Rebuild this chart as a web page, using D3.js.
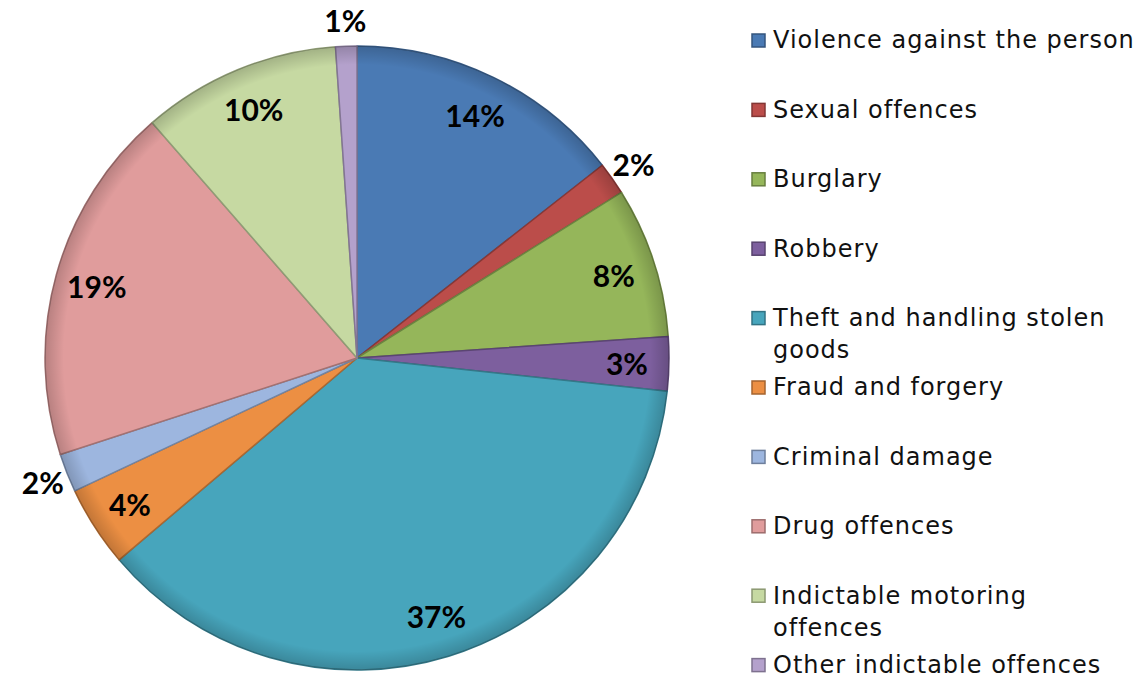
<!DOCTYPE html>
<html lang="en">
<head>
<meta charset="utf-8">
<style>
  body { margin: 0; background: white; }
  svg { display: block; background: white; }
  .lbl { font-family: Lato, "DejaVu Sans", sans-serif; font-weight: bold; font-size: 30px; fill: #000; }
  .leg text { font-family: "DejaVu Sans", sans-serif; font-size: 24px; letter-spacing: 1px; fill: #111; }
</style>
<title>Offences</title>
</head>
<body>
<script src="https://cdn.jsdelivr.net/npm/d3@7"></script>
<script>
// offence categories, in pie order (clockwise from 12 o'clock)
var categories = ["Violence against the person", "Sexual offences", "Burglary", "Robbery",
                  "Theft and handling stolen goods", "Fraud and forgery", "Criminal damage",
                  "Drug offences", "Indictable motoring offences", "Other indictable offences"];
// share of offences, percent
var shares = [14.4, 1.7, 7.8, 2.8, 37.1, 4.2, 2.0, 18.6, 10.3, 1.1];
var colours = ["#4a7ab4", "#bb4d4a", "#95b65a", "#7d5f9e", "#47a5bc",
               "#ec8f43", "#9db6df", "#e09c9c", "#c6d9a2", "#b4a1cc"];
// legend lines (wrapped like the original)
var legendLines = [["Violence against the person"], ["Sexual offences"], ["Burglary"], ["Robbery"],
                   ["Theft and handling stolen", "goods"], ["Fraud and forgery"], ["Criminal damage"],
                   ["Drug offences"], ["Indictable motoring", "offences"], ["Other indictable offences"]];

var W = 1140, H = 681;
var cx = 357, cy = 358, R = 312;

var svg = d3.select("body").append("svg").attr("width", W).attr("height", H);

var data = categories.map(function(c, i) { return {name: c, value: shares[i], color: colours[i], i: i}; });

var pie = d3.pie().sort(null).value(function(d) { return d.value; });
var arc = d3.arc().innerRadius(0).outerRadius(R);
var arcs = pie(data);

// soft bevel shading
var defs = svg.append("defs");
var grad = defs.append("radialGradient").attr("id", "shade")
    .attr("gradientUnits", "userSpaceOnUse").attr("cx", cx).attr("cy", cy).attr("r", R);
grad.append("stop").attr("offset", "0.94").attr("stop-color", "#000").attr("stop-opacity", 0);
grad.append("stop").attr("offset", "1").attr("stop-color", "#000").attr("stop-opacity", 0.18);

var g = svg.append("g").attr("transform", "translate(" + cx + "," + cy + ")");

g.selectAll("path.slice")
  .data(arcs)
  .enter().append("path")
    .attr("class", "slice")
    .attr("d", arc)
    .attr("fill", function(d) { return d.data.color; })
    .attr("stroke", function(d) { return d3.color(d.data.color).darker(0.9); })
    .attr("stroke-width", 1.5)
    .attr("stroke-linejoin", "round");

// overlay for edge darkening
svg.append("circle").attr("cx", cx).attr("cy", cy).attr("r", R)
  .attr("fill", "url(#shade)").attr("pointer-events", "none");

// labels: small slices go outside the pie
var inArc = d3.arc().innerRadius(270).outerRadius(270);
var outArc = d3.arc().innerRadius(338).outerRadius(338);

g.selectAll("text.lbl")
  .data(arcs)
  .enter().append("text")
    .attr("class", "lbl")
    .attr("text-anchor", "middle")
    .attr("dominant-baseline", "central")
    .attr("transform", function(d) {
      var p = (d.data.value < 2.5 ? outArc : inArc).centroid(d);
      return "translate(" + p[0] + "," + p[1] + ")";
    })
    .text(function(d) { return Math.round(d.data.value) + "%"; });

// legend
var leg = svg.append("g").attr("class", "leg").attr("transform", "translate(752,40)");
var item = leg.selectAll("g.item")
  .data(data)
  .enter().append("g")
    .attr("class", "item")
    .attr("transform", function(d, i) { return "translate(0," + (i * 69.4) + ")"; });

item.append("rect")
  .attr("x", 0).attr("y", -6).attr("width", 13).attr("height", 13)
  .attr("fill", function(d) { return d.color; })
  .attr("stroke", function(d) { return d3.color(d.color).darker(1); })
  .attr("stroke-width", 1.5);

item.append("text")
  .attr("x", 21)
  .attr("y", 0)
  .selectAll("tspan")
  .data(function(d) { return legendLines[d.i]; })
  .enter().append("tspan")
    .attr("x", 21)
    .attr("dy", function(d, j) { return j === 0 ? "0.35em" : "32px"; })
    .text(function(t) { return t; });
</script>
</body>
</html>
